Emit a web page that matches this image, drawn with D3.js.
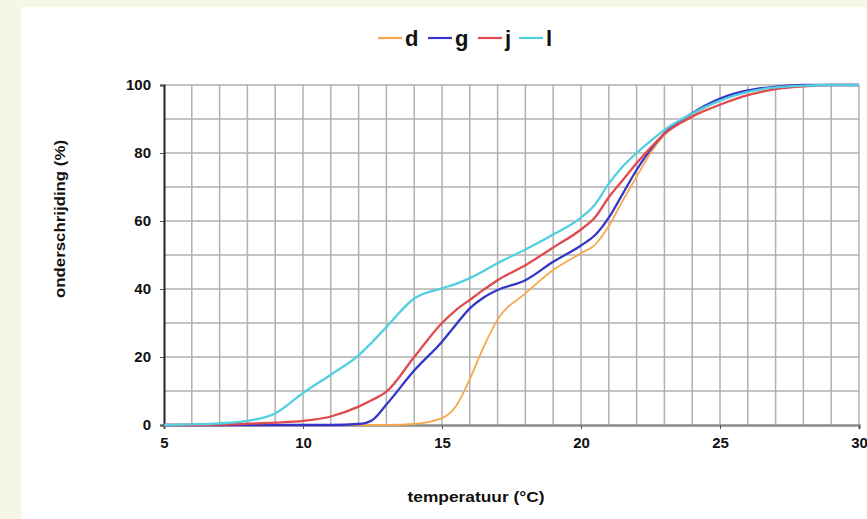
<!DOCTYPE html>
<html>
<head>
<meta charset="utf-8">
<script src="https://cdn.jsdelivr.net/npm/d3@7"></script>
<style>
    html, body { margin: 0; padding: 0; background: #fff; }
    svg { display: block; }
</style>
</head>
<body>
<div id="chart"></div>
<script>
// temperature points (°C) shared by all series
var temps = [5, 6, 7, 8, 9, 10, 11, 12, 12.5, 13, 14, 15, 15.5, 16, 16.5, 17,
             18, 19, 20, 20.5, 21, 21.5, 22, 22.5, 23, 24, 25, 26, 27, 28, 29, 30];

// onderschrijding (%) per series
var seriesD = [0, 0, 0, 0, 0, 0, 0, 0, 0, 0, 0.3, 2, 5.5, 13.5, 23, 31,
               38.7, 45.6, 50.5, 53, 58.5, 66, 73, 80, 85.3, 91, 95.5, 98.2, 99.4, 100, 100, 100];
var seriesG = [0, 0, 0, 0, 0, 0, 0, 0.3, 1.5, 6, 16, 24.5, 29.5, 34.3, 37.5, 39.7,
               42.6, 48, 52.8, 55.8, 61, 68, 75, 81, 85.8, 91.7, 96, 98.4, 99.5, 100, 100, 100];
var seriesJ = [0, 0, 0.1, 0.4, 0.7, 1.2, 2.5, 5.4, 7.4, 9.8, 20, 30, 33.8, 36.8, 39.8, 42.6,
               47, 52.2, 57.5, 61, 67, 72, 77, 81.5, 85.6, 90.7, 94.2, 97, 98.8, 99.6, 100, 100];
var seriesL = [0, 0.2, 0.5, 1.2, 3.4, 9.4, 14.8, 20.5, 24.5, 28.8, 37.2, 40.2, 41.5, 43.2, 45.3, 47.6,
               51.6, 56, 61, 64.8, 71, 76, 80, 83.5, 86.8, 91.6, 95.4, 98, 99.3, 99.8, 100, 100];

var seriesNames = ['d', 'g', 'j', 'l'];
var seriesColors = ['#f4a84e', '#3535c8', '#e04a4f', '#52cfe0'];

var xTicks = [5, 10, 15, 20, 25, 30];
var yTicks = [0, 20, 40, 60, 80, 100];

var width = 867,
    height = 519,
    margin = {left: 164, right: 8, top: 85, bottom: 94};

var svg = d3.select('#chart').append('svg')
    .attr('width', width)
    .attr('height', height);

// beige frame round the white panel
svg.append('rect').attr('x', 0).attr('y', 0).attr('width', width).attr('height', 7).attr('fill', '#f6f6e6');
svg.append('rect').attr('x', 0).attr('y', 0).attr('width', 21).attr('height', height).attr('fill', '#f6f6e6');

var x = d3.scaleLinear()
    .domain([5, 30])
    .range([margin.left, width - margin.right]);

var y = d3.scaleLinear()
    .domain([0, 100])
    .range([height - margin.bottom, margin.top]);

// grid
var grid = svg.append('g');
grid.selectAll('line.v')
    .data(d3.range(6, 31))
    .enter().append('line')
    .attr('x1', function(d) { return x(d); })
    .attr('x2', function(d) { return x(d); })
    .attr('y1', y(0))
    .attr('y2', y(100))
    .attr('stroke', '#b0b0b0')
    .attr('stroke-width', 1.5);
grid.selectAll('line.h')
    .data(d3.range(10, 101, 10))
    .enter().append('line')
    .attr('x1', x(5))
    .attr('x2', x(30))
    .attr('y1', function(d) { return y(d); })
    .attr('y2', function(d) { return y(d); })
    .attr('stroke', '#b0b0b0')
    .attr('stroke-width', 1.5);

// axes
var xAxis = svg.append('g')
    .attr('transform', 'translate(0,' + y(0) + ')')
    .call(d3.axisBottom(x).tickValues(xTicks).tickSize(4).tickPadding(8).tickFormat(d3.format('d')));
xAxis.select('.domain').attr('stroke', '#8a8a8a').attr('stroke-width', 2.5);
xAxis.selectAll('.tick line').attr('stroke', '#555');

var yAxis = svg.append('g')
    .attr('transform', 'translate(' + x(5) + ',0)')
    .call(d3.axisLeft(y).tickValues(yTicks).tickSize(4).tickPadding(9).tickFormat(d3.format('d')));
yAxis.select('.domain').attr('stroke', '#222').attr('stroke-width', 2);
yAxis.selectAll('.tick line').attr('stroke', '#555');

svg.selectAll('.tick text')
    .attr('fill', '#111')
    .style('font-family', 'Liberation Sans, Arial, sans-serif')
    .style('font-size', '15px')
    .style('font-weight', 'bold');

// lines
var data = [seriesD, seriesG, seriesJ, seriesL];
var line = d3.line()
    .curve(d3.curveMonotoneX)
    .x(function(d, i) { return x(temps[i]); })
    .y(function(d) { return y(d); });

svg.append('g').selectAll('path')
    .data(data)
    .enter().append('path')
    .attr('d', line)
    .attr('fill', 'none')
    .attr('stroke', function(d, i) { return seriesColors[i]; })
    .attr('stroke-width', function(d, i) { return i == 0 ? 1.8 : 2.3; })
    .attr('stroke-linejoin', 'round');

// legend
var legendPos = [378, 428, 478, 519];
var legend = svg.append('g');
seriesNames.forEach(function(name, i) {
    legend.append('line')
        .attr('x1', legendPos[i])
        .attr('x2', legendPos[i] + 24)
        .attr('y1', 38)
        .attr('y2', 38)
        .attr('stroke', seriesColors[i])
        .attr('stroke-width', 2.2);
    legend.append('text')
        .attr('x', legendPos[i] + 27)
        .attr('y', 46)
        .attr('fill', '#111')
        .style('font-family', 'Liberation Sans Narrow, Arial Narrow, Liberation Sans, sans-serif')
        .style('font-size', '22px')
        .style('font-weight', 'bold')
        .text(name);
});

// axis titles
svg.append('text')
    .attr('x', 476)
    .attr('y', 502)
    .attr('text-anchor', 'middle')
    .attr('textLength', 137)
    .attr('lengthAdjust', 'spacingAndGlyphs')
    .attr('fill', '#111')
    .style('font-family', 'Liberation Sans, Arial, sans-serif')
    .style('font-size', '14px')
    .style('font-weight', 'bold')
    .text('temperatuur (°C)');

svg.append('text')
    .attr('transform', 'translate(65,219) rotate(-90)')
    .attr('text-anchor', 'middle')
    .attr('textLength', 158)
    .attr('lengthAdjust', 'spacingAndGlyphs')
    .attr('fill', '#111')
    .style('font-family', 'Liberation Sans, Arial, sans-serif')
    .style('font-size', '14px')
    .style('font-weight', 'bold')
    .text('onderschrijding (%)');
</script>
</body>
</html>
